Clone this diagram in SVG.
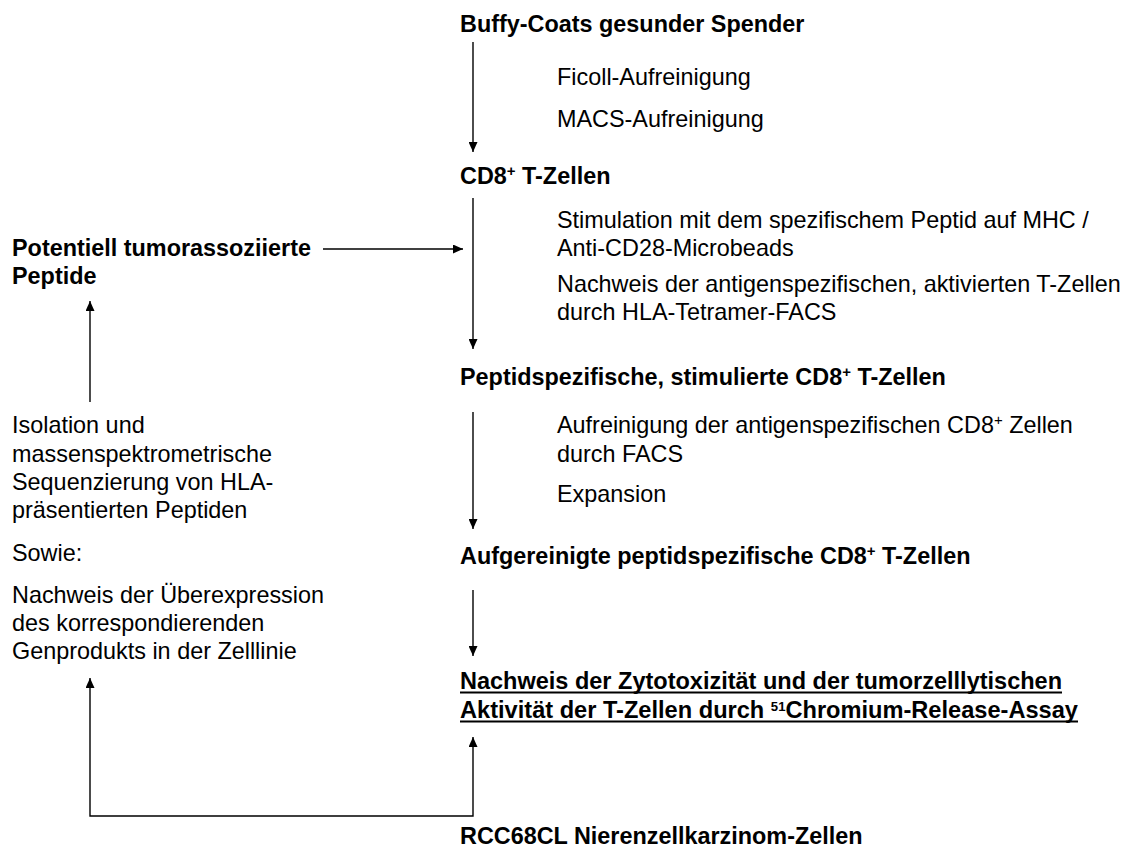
<svg xmlns="http://www.w3.org/2000/svg" width="1133" height="847" viewBox="0 0 1133 847">
<style>
text{font-family:"Liberation Sans",Arial,sans-serif;fill:#000;font-size:23.4px}
.b{font-weight:bold}
.sup{font-size:15px}
.c{fill:none;stroke:#000;stroke-width:1.4}
.ul{stroke:#000;stroke-width:1.8}
</style>
<defs>
<marker id="ah" markerUnits="userSpaceOnUse" markerWidth="10" markerHeight="9" refX="10" refY="4.5" orient="auto-start-reverse">
<path d="M0,0 L10,4.5 L0,9 z" fill="#000"/>
</marker>
</defs>
<rect width="1133" height="847" fill="#fff"/>
<g id="connectors">
<path class="c" d="M473,42 V152" marker-end="url(#ah)"/>
<path class="c" d="M473,198 V349" marker-end="url(#ah)"/>
<path class="c" d="M473,412 V529" marker-end="url(#ah)"/>
<path class="c" d="M473,590 V656" marker-end="url(#ah)"/>
<path class="c" d="M323,249 H463" marker-end="url(#ah)"/>
<path class="c" d="M90,402 V301" marker-end="url(#ah)"/>
<path class="c" d="M90,678 V816 H473 V737" marker-start="url(#ah)" marker-end="url(#ah)"/>
</g>
<g id="buffy"><text class="b" x="460" y="32">Buffy-Coats gesunder Spender</text></g>
<g id="step1"><text x="557" y="85">Ficoll-Aufreinigung</text><text x="557" y="127">MACS-Aufreinigung</text></g>
<g id="cd8"><text class="b" x="460" y="184">CD8<tspan class="sup" baseline-shift="super">+</tspan> T-Zellen</text></g>
<g id="step2"><text x="557" y="228">Stimulation mit dem spezifischem Peptid auf MHC /</text><text x="557" y="256">Anti-CD28-Microbeads</text><text x="557" y="292">Nachweis der antigenspezifischen, aktivierten T-Zellen</text><text x="557" y="320">durch HLA-Tetramer-FACS</text></g>
<g id="peptide"><text class="b" x="12" y="256">Potentiell tumorassoziierte</text><text class="b" x="12" y="284">Peptide</text></g>
<g id="stimulated"><text class="b" x="460" y="385">Peptidspezifische, stimulierte CD8<tspan class="sup" baseline-shift="super">+</tspan> T-Zellen</text></g>
<g id="step3"><text x="557" y="433">Aufreinigung der antigenspezifischen CD8<tspan class="sup" baseline-shift="super">+</tspan> Zellen</text><text x="557" y="462">durch FACS</text><text x="557" y="502">Expansion</text></g>
<g id="purified"><text class="b" x="460" y="564">Aufgereinigte peptidspezifische CD8<tspan class="sup" baseline-shift="super">+</tspan> T-Zellen</text></g>
<g id="isolation"><text x="12" y="433">Isolation und</text><text x="12" y="462">massenspektrometrische</text><text x="12" y="490">Sequenzierung von HLA-</text><text x="12" y="518">präsentierten Peptiden</text><text x="12" y="561">Sowie:</text><text x="12" y="603">Nachweis der Überexpression</text><text x="12" y="631">des korrespondierenden</text><text x="12" y="659">Genprodukts in der Zelllinie</text></g>
<g id="assay"><text class="b" x="460" y="689" font-size="20" textLength="602" lengthAdjust="spacingAndGlyphs">Nachweis der Zytotoxizität und der tumorzelllytischen</text><text class="b" x="460" y="718" font-size="20" textLength="618" lengthAdjust="spacingAndGlyphs">Aktivität der T-Zellen durch <tspan font-size="13" baseline-shift="super">51</tspan>Chromium-Release-Assay</text><line class="ul" x1="460" y1="692.5" x2="1062" y2="692.5"/><line class="ul" x1="460" y1="721.5" x2="1078" y2="721.5"/></g>
<g id="rcc"><text class="b" x="460" y="844">RCC68CL Nierenzellkarzinom-Zellen</text></g>
</svg>
